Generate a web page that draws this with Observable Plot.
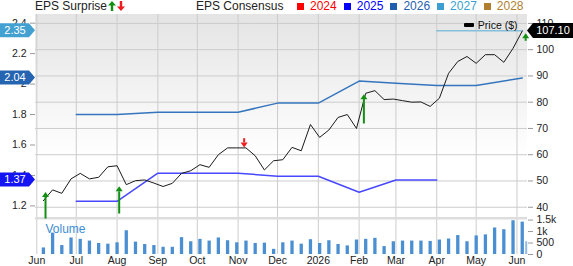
<!DOCTYPE html>
<html><head><meta charset="utf-8">
<script src="https://cdn.jsdelivr.net/npm/d3@7"></script>
<script src="https://cdn.jsdelivr.net/npm/@observablehq/plot@0.6"></script>
<style>
body{margin:0;background:#fff;font-family:"Liberation Sans",Arial,sans-serif;}
#wrap{position:relative;width:573px;height:266px;overflow:hidden;}
#hdr{position:relative;height:14px;font-size:12px;line-height:14px;color:#222;}
#hdr .t{position:absolute;top:-1px;white-space:nowrap}
#legend{position:absolute;left:297px;top:-1px;display:flex;gap:7px;white-space:nowrap}
#legend .it{display:flex;align-items:center;gap:6px}
#legend .sw{width:7px;height:7px;display:inline-block}
</style></head>
<body><div id="wrap"><div id="hdr"></div><div id="chart"></div></div>
<script>
// ---------------- data ----------------
const weekDates = ["2025-06-06","2025-06-13","2025-06-20","2025-06-27","2025-07-04","2025-07-11","2025-07-18","2025-07-25",
"2025-08-01","2025-08-08","2025-08-15","2025-08-22","2025-08-29","2025-09-05","2025-09-12","2025-09-19","2025-09-26",
"2025-10-03","2025-10-10","2025-10-17","2025-10-24","2025-10-31","2025-11-07","2025-11-14","2025-11-21","2025-11-28",
"2025-12-05","2025-12-12","2025-12-19","2025-12-26","2026-01-02","2026-01-09","2026-01-16","2026-01-23","2026-01-30",
"2026-02-06","2026-02-13","2026-02-20","2026-02-27","2026-03-06","2026-03-13","2026-03-20","2026-03-27",
"2026-04-03","2026-04-10","2026-04-17","2026-04-24","2026-05-01","2026-05-08","2026-05-15","2026-05-22","2026-05-29","2026-06-05"];
const prices = [42.5,46.6,45.3,50.8,52.9,50.8,51.4,55.4,
55.8,48.6,50.1,50.4,49.2,47.9,49.1,52.9,53.9,
56.2,55.2,60.0,62.6,62.6,62.6,59.6,54.2,57.7,
58.1,62.8,61.5,71.5,66.6,69.4,74.2,75.3,70.0,
83.4,84.4,81.0,81.2,80.6,80.0,80.1,78.4,
81.5,91.0,95.5,97.4,94.8,98.1,98.1,95.2,100.5,107.1];
// weekly volume, thousands of shares
const volumes = [0.285,0.93,0.39,0.72,0.66,0.585,0.48,0.45,
0.51,1.035,0.54,0.435,0.39,0.315,0.315,0.735,0.555,
0.66,0.585,0.72,0.60,0.51,0.585,0.48,0.495,0.225,
0.51,0.585,0.45,0.645,0.48,0.60,0.435,0.375,0.63,
0.66,0.705,0.345,0.555,0.585,0.585,0.585,0.57,
0.63,0.675,0.825,0.555,0.81,0.855,1.155,1.08,1.47,1.41];
const partialVolDate = "2026-06-08";
const partialVol = 0.555;

const monthDates = ["2025-06-01","2025-07-01","2025-08-01","2025-09-01","2025-10-01","2025-11-01","2025-12-01",
"2026-01-01","2026-02-01","2026-03-01","2026-04-01","2026-05-01","2026-06-01"];
const monthLabels = ["Jun","Jul","Aug","Sep","Oct","Nov","Dec","2026","Feb","Mar","Apr","May","Jun"];

const cons2025Dates = ["2025-07-01","2025-08-01","2025-09-01","2025-10-01","2025-11-01","2025-12-01","2026-01-01","2026-02-01","2026-03-01","2026-04-01"];
const cons2025 = [1.23,1.23,1.415,1.415,1.415,1.395,1.395,1.29,1.37,1.37];
const cons2026Dates = ["2025-07-01","2025-08-01","2025-09-01","2025-10-01","2025-11-01","2025-12-01","2026-01-01","2026-02-01","2026-03-01","2026-04-01","2026-05-01","2026-06-05"];
const cons2026 = [1.80,1.80,1.815,1.815,1.815,1.875,1.875,2.02,2.005,1.99,1.99,2.04];
const cons2027Dates = ["2026-04-01","2026-05-01","2026-06-05"];
const cons2027 = [2.35,2.35,2.35];

const surpriseDates = ["2025-06-08","2025-08-03","2025-11-06","2026-02-05","2026-06-08"];
const surpriseDir = ["up","up","down","up","up"];
const surpriseTail = [35.5,37.4,66.1,71.7,103.2];  // price units
const surpriseTip  = [45.6,47.8,62.6,82.8,106.1];

const priceTicks = [40,50,60,70,80,90,100,110];
const epsTicks = [1.2,1.4,1.6,1.8,2.0,2.2,2.4];
const epsTickLabels = ["1.2","1.4","1.6","1.8","2","2.2","2.4"];
const volTicks = [0,0.5,1,1.5];
const volTickLabels = ["0","500","1k","1.5k"];

const legendYears = ["2024","2025","2026","2027","2028"];
const legendColors = ["#ff0000","#0000ff","#1f5fae","#3a9fd0","#b07f2e"];

const epsBadgeValues = [2.35,2.04,1.37];
const epsBadgeLabels = ["2.35","2.04","1.37"];
const epsBadgeColors = ["#43a1d1","#2464b0","#1414f2"];
const lastPriceLabel = "107.10";

// ---------------- mapping onto the shared (price) axis ----------------
const epsToY = e => 40.5 + (e - 1.2) * 58;
const volToY = v => 22 + v * 8.743;

const price = weekDates.map((d,i)=>({date:new Date(d), p:prices[i]}));
const vol = weekDates.map((d,i)=>({date:new Date(d), v:volumes[i]}));
const mk = (ds,vs)=>ds.map((d,i)=>({date:new Date(d), e:vs[i]}));
const c2025 = mk(cons2025Dates,cons2025), c2026 = mk(cons2026Dates,cons2026), c2027 = mk(cons2027Dates,cons2027);
const months = monthDates.map(d=>new Date(d));
const monthMap = new Map(months.map((d,i)=>[+d, monthLabels[i]]));
const epsTickPos = epsTicks.map(epsToY);
const epsMap = new Map(epsTickPos.map((p,i)=>[p, epsTickLabels[i]]));
const volTickPos = volTicks.map(volToY);
const volMap = new Map(volTickPos.map((p,i)=>[p, volTickLabels[i]]));

// ---------------- header ----------------
const hdr = document.getElementById("hdr");
hdr.innerHTML = `<span class="t" style="left:35px">EPS Surprise<svg width="18" height="10" style="margin-left:1px;vertical-align:-1px">
<path d="M4,0L8,4.5H5.2V10H2.8V4.5H0Z" fill="#129012"/><path d="M13,10L17,5.5H14.2V0H11.8V5.5H9Z" fill="#ee1c1c"/></svg></span>
<span class="t" style="left:196px">EPS Consensus</span>
<div id="legend">${legendYears.map((y,i)=>`<span class="it"><span class="sw" style="background:${legendColors[i]}"></span><span style="color:${legendColors[i]}">${y}</span></span>`).join("")}</div>`;

// ---------------- custom marks ----------------
function background(index, scales, values, dims) {
  const g = d3.create("svg:g");
  const lg = g.append("defs").append("linearGradient").attr("id","bgGrad").attr("x1",0).attr("x2",0).attr("y1",0).attr("y2",1);
  lg.append("stop").attr("offset","0").attr("stop-color","#e4e4e4");
  lg.append("stop").attr("offset","0.7").attr("stop-color","#ffffff");
  const x0 = dims.marginLeft, x1 = dims.width - dims.marginRight;
  g.append("rect").attr("x",x0).attr("y",dims.marginTop).attr("width",x1-x0)
   .attr("height",scales.y(35.8)-dims.marginTop).attr("fill","url(#bgGrad)");
  return g.node();
}
function surprises(index, scales) {
  const g = d3.create("svg:g");
  surpriseDates.forEach((d,i)=>{
    const x = scales.x(new Date(d));
    const yT = scales.y(surpriseTail[i]), yP = scales.y(surpriseTip[i]);
    const col = surpriseDir[i]==="up" ? "#129012" : "#ee1c1c";
    const dir = yP < yT ? 1 : -1, hl = 5, hw = 3.5;
    g.append("line").attr("x1",x).attr("x2",x).attr("y1",yT).attr("y2",yP+dir*hl)
     .attr("stroke",col).attr("stroke-width",2);
    g.append("path").attr("d",`M${x},${yP}L${x-hw},${yP+dir*hl}L${x+hw},${yP+dir*hl}Z`).attr("fill",col);
  });
  return g.node();
}
function badges(index, scales, values, dims) {
  const g = d3.create("svg:g").attr("font-size",11).attr("font-family","Liberation Sans, Arial, sans-serif");
  epsBadgeValues.forEach((v,i)=>{
    const y = scales.y(epsToY(v));
    g.append("path").attr("d",`M0,${y-7}H29L35,${y}L29,${y+7}H0Z`).attr("fill",epsBadgeColors[i]);
    g.append("text").attr("x",15).attr("y",y).attr("dy","0.35em").attr("text-anchor","middle")
     .attr("fill","#fff").text(epsBadgeLabels[i]);
  });
  const xr = dims.width - dims.marginRight;
  const y = scales.y(prices[prices.length-1]);
  g.append("path").attr("d",`M${xr},${y}L${xr+6},${y-7.5}H${dims.width}V${y+7.5}H${xr+6}Z`).attr("fill","#000");
  g.append("text").attr("x",xr+26).attr("y",y).attr("dy","0.35em").attr("text-anchor","middle")
   .attr("fill","#fff").text(lastPriceLabel);
  // price legend swatch
  g.append("rect").attr("x",xr-63).attr("y",9).attr("width",10).attr("height",4).attr("rx",1).attr("fill","#000");
  return g.node();
}

// ---------------- plot ----------------
const chart = Plot.plot({
  width: 573, height: 252,
  marginLeft: 35, marginRight: 46, marginTop: 0, marginBottom: 12,
  style: {fontFamily: "Liberation Sans, Arial, sans-serif", fontSize: "10.5px", color: "#222", background: "transparent", overflow: "visible"},
  x: {type: "utc", domain: [new Date("2025-05-31"), new Date("2026-06-09")]},
  y: {domain: [22, 113.4]},
  marks: [
    background,
    Plot.gridY(priceTicks, {stroke: "#cccccc", strokeOpacity: 1}),
    Plot.gridX(months, {stroke: "#cccccc", strokeOpacity: 1}),
    Plot.ruleY([35.8], {stroke: "#dddddd", strokeWidth: 2.5}),
    Plot.ruleX(vol, {x: "date", y1: 22, y2: d => volToY(d.v), stroke: "#4a8fd2", strokeWidth: 3.3}),
    Plot.ruleX([partialVol], {x: () => new Date(partialVolDate), y1: 22, y2: d => volToY(d), stroke: "#8fbbe6", strokeWidth: 2}),
    Plot.text(["Volume"], {frameAnchor: "bottom-left", dx: 10, dy: -25, textAnchor: "start", lineAnchor: "middle", fontSize: 12, fill: "#3b8dd4"}),
    Plot.line(c2025, {x: "date", y: d => epsToY(d.e), stroke: "#4848ff", strokeWidth: 1.5}),
    Plot.line(c2026, {x: "date", y: d => epsToY(d.e), stroke: "#3575bd", strokeWidth: 1.5}),
    Plot.line(c2027, {x: "date", y: d => epsToY(d.e), stroke: "#86bfdc", strokeWidth: 1.5}),
    Plot.line(price, {x: "date", y: "p", stroke: "#1a1a1a", strokeWidth: 1}),
    surprises,
    Plot.text(["Price ($)"], {frameAnchor: "top-right", dx: -10, dy: 11, textAnchor: "end", lineAnchor: "middle", fontSize: 10.5, fill: "#111"}),
    Plot.axisX(months, {tickFormat: d => monthMap.get(+d), tickSize: 0, tickPadding: 2, label: null}),
    Plot.axisY(epsTickPos, {anchor: "left", tickFormat: d => epsMap.get(d), tickSize: 5, tickPadding: 4, label: null, stroke: "#999"}),
    Plot.axisY(priceTicks, {anchor: "right", tickSize: 5, tickPadding: 4, label: null, stroke: "#999"}),
    Plot.axisY(volTickPos, {anchor: "right", tickFormat: d => volMap.get(d), tickSize: 5, tickPadding: 4, label: null, stroke: "#999"}),
    badges
  ]
});
document.getElementById("chart").appendChild(chart);
</script></body></html>
